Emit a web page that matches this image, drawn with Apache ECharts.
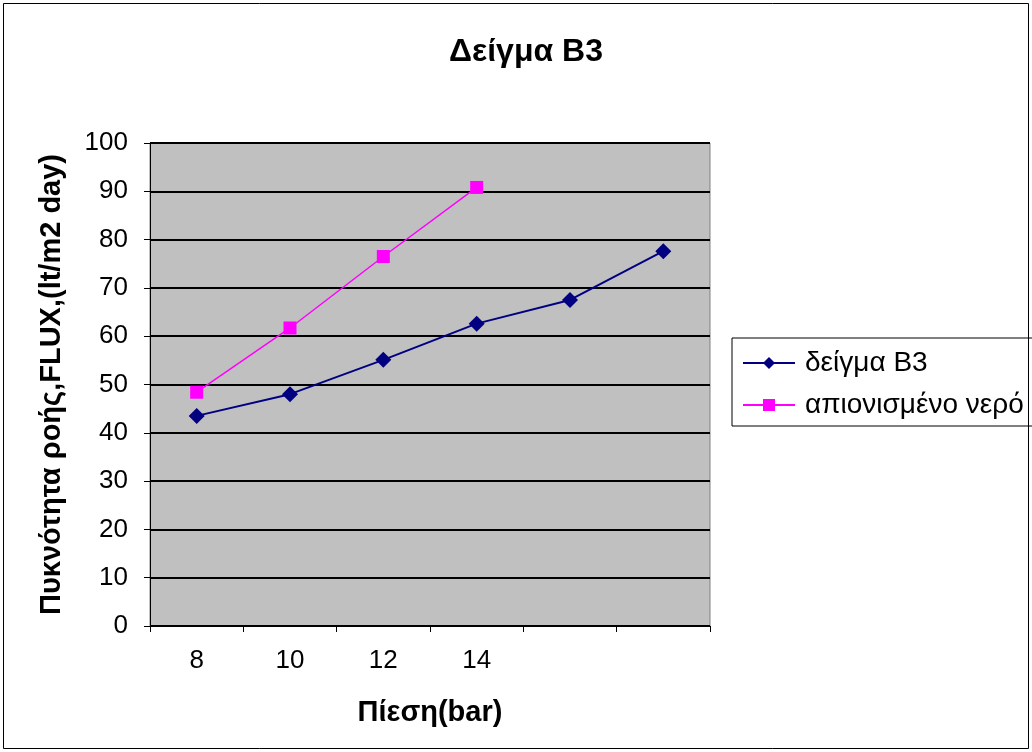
<!DOCTYPE html>
<html><head><meta charset="utf-8">
<script src="https://cdn.jsdelivr.net/npm/echarts@6/dist/echarts.min.js"></script>
<style>html,body{margin:0;padding:0;background:#fff}#c{width:1032px;height:752px}</style>
</head><body><div id="c"></div>
<script>
const categories = ['8', '10', '12', '14', '', ' '];
const seriesB3 = [43.5, 48.0, 55.1, 62.6, 67.5, 77.6];
const seriesWater = [48.4, 61.7, 76.5, 90.8];
const yTicks = { min: 0, max: 100, interval: 10 };

const chart = echarts.init(document.getElementById('c'));
const font = 'Liberation Sans, Arial, sans-serif';
chart.setOption({
  animation: false,
  backgroundColor: '#ffffff',
  textStyle: { fontFamily: font },
  title: {
    text: 'Δείγμα B3', left: 526, top: 36, textAlign: 'center', padding: 0,
    textStyle: { fontSize: 32, fontWeight: 'bold', color: '#000', fontFamily: font }
  },
  graphic: [{
    type: 'rect', shape: { x: 3.5, y: 3.5, width: 1025, height: 745 },
    style: { fill: 'none', stroke: '#000', lineWidth: 1 }, z: 100
  }],
  legend: {
    orient: 'vertical', left: 732, top: 338,
    padding: [11, 20, 7, 10], itemGap: 14,
    itemWidth: 52, itemHeight: 15,
    borderColor: '#000', borderWidth: 1, backgroundColor: '#fff',
    textStyle: { fontSize: 28, color: '#000', fontFamily: font, padding: [0, 0, 0, 5] },
    data: ['δείγμα B3', 'απιονισμένο νερό']
  },
  grid: { left: 150, right: 322, top: 143, bottom: 126, show: true, backgroundColor: '#c0c0c0', borderColor: '#808080', borderWidth: 1 },
  xAxis: {
    type: 'category', data: categories, boundaryGap: true,
    name: 'Πίεση(bar)', nameLocation: 'middle', nameGap: 72,
    nameTextStyle: { fontSize: 29, fontWeight: 'bold', color: '#000', fontFamily: font },
    axisLine: { lineStyle: { color: '#000', width: 1 } },
    axisTick: { show: true, alignWithLabel: false, length: 6, lineStyle: { color: '#000' } },
    axisLabel: { fontSize: 26, color: '#000', margin: 22, fontFamily: font },
    splitLine: { show: false }
  },
  yAxis: {
    type: 'value', min: yTicks.min, max: yTicks.max, interval: yTicks.interval,
    name: 'Πυκνότητα ροής,FLUX,(lt/m2 day)', nameLocation: 'middle', nameGap: 84,
    nameTextStyle: { fontSize: 29, fontWeight: 'bold', color: '#000', fontFamily: font },
    axisLine: { show: true, lineStyle: { color: '#000', width: 1 } },
    axisTick: { show: true, length: 6, lineStyle: { color: '#000' } },
    axisLabel: { fontSize: 26, color: '#000', margin: 22, fontFamily: font },
    splitLine: { show: true, lineStyle: { color: '#000', width: 2 } }
  },
  series: [
    {
      name: 'δείγμα B3', type: 'line', data: seriesB3,
      symbol: 'diamond', symbolSize: 16,
      lineStyle: { color: '#000080', width: 2 },
      itemStyle: { color: '#000080' }
    },
    {
      name: 'απιονισμένο νερό', type: 'line', data: seriesWater,
      symbol: 'rect', symbolSize: 13,
      lineStyle: { color: '#ff00ff', width: 1.5 },
      itemStyle: { color: '#ff00ff' }
    }
  ]
});
</script></body></html>
